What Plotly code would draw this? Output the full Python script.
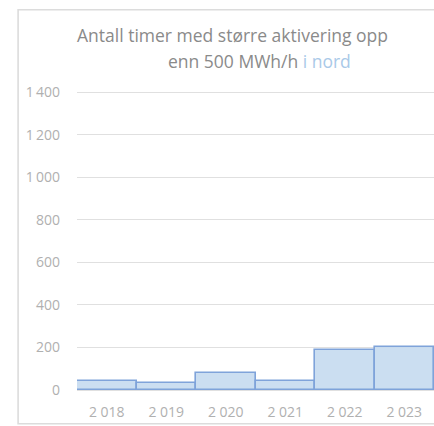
import plotly.graph_objects as go

# Hours per year with upward activation larger than 500 MWh/h (north)
years = ["2018", "2019", "2020", "2021", "2022", "2023"]
year_labels = ["2 018", "2 019", "2 020", "2 021", "2 022", "2 023"]
hours = [42, 35, 80, 44, 190, 200]

y_ticks = [0, 200, 400, 600, 800, 1000, 1200, 1400]
y_tick_labels = ["0", "200", "400", "600", "800", "1\u2009000", "1\u2009200", "1\u2009400"]

title_line1 = "Antall timer med større aktivering opp"
title_line2 = "enn 500 MWh/h <span style='color:#a9c9e8'>i nord</span>"

FONT = "Segoe UI, Open Sans, sans-serif"
TICK_COLOR = "#b0b0b0"
TITLE_COLOR = "#8a8a8a"

fig = go.Figure(
    go.Bar(
        x=years,
        y=hours,
        marker=dict(
            color="rgba(197,218,240,0.9)",
            line=dict(color="#7fa3da", width=1.6),
        ),
        hoverinfo="x+y",
    )
)

fig.update_layout(
    width=434,
    height=426,
    margin=dict(l=77, r=0, t=88, b=36),
    paper_bgcolor="white",
    plot_bgcolor="white",
    bargap=0,
    showlegend=False,
    font=dict(family=FONT, size=14, color=TICK_COLOR),
    xaxis=dict(
        tickmode="array",
        tickvals=years,
        ticktext=year_labels,
        showgrid=False,
        showline=False,
        zeroline=False,
        ticks="",
        ticklabelstandoff=12,
        tickfont=dict(size=14, color=TICK_COLOR),
    ),
    yaxis=dict(
        range=[0, 1420],
        tickmode="array",
        tickvals=y_ticks,
        ticktext=y_tick_labels,
        showgrid=True,
        gridcolor="#e0e0e0",
        gridwidth=1,
        zeroline=True,
        zerolinecolor="#e0e0e0",
        zerolinewidth=1,
        showline=False,
        ticks="",
        ticklabelstandoff=16,
        tickfont=dict(size=14, color=TICK_COLOR),
    ),
    annotations=[
        dict(
            text=title_line1,
            xref="paper", yref="paper",
            x=0.4356, y=1.176,
            xanchor="center", yanchor="middle",
            showarrow=False,
            font=dict(family=FONT, size=17.5, color=TITLE_COLOR),
        ),
        dict(
            text=title_line2,
            xref="paper", yref="paper",
            x=0.5126, y=1.090,
            xanchor="center", yanchor="middle",
            showarrow=False,
            font=dict(family=FONT, size=17.5, color=TITLE_COLOR),
        ),
    ],
    shapes=[
        # outer chart frame (open on the right)
        dict(
            type="path",
            xref="paper", yref="paper",
            path="M 1.1,1.259 L -0.165,1.259 L -0.165,-0.112 L 1.1,-0.112",
            line=dict(color="#dcdcdc", width=1.6),
            layer="below",
        ),
    ],
)

fig.write_html("out.html")
